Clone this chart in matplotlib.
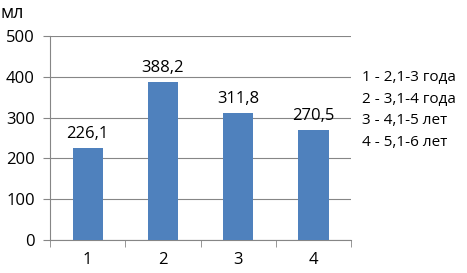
import matplotlib.pyplot as plt

categories = ["1", "2", "3", "4"]
values = [226.1, 388.2, 311.8, 270.5]
value_labels = ["226,1", "388,2", "311,8", "270,5"]
legend_lines = ["1 - 2,1-3 года", "2 - 3,1-4 года", "3 - 4,1-5 лет", "4 - 5,1-6 лет"]
y_ticks = [0, 100, 200, 300, 400, 500]

plt.rcParams["font.family"] = ["Open Sans", "DejaVu Sans"]

fig = plt.figure(figsize=(4.67, 2.73), dpi=100)
ax = fig.add_axes([0.107, 0.121, 0.645, 0.747])

x = range(len(categories))
bars = ax.bar(x, values, width=0.4, color="#4F81BD", zorder=3)
for b, lab in zip(bars, value_labels):
    ax.text(b.get_x() + b.get_width() / 2, b.get_height() + 14, lab,
            ha="center", va="bottom", fontsize=12)

ax.set_xlim(-0.5, len(categories) - 0.5)
ax.set_ylim(0, 500)
ax.set_yticks(y_ticks)
ax.set_yticklabels([str(t) for t in y_ticks], fontsize=12)
ax.set_xticks(list(x))
ax.set_xticklabels(categories, fontsize=12)
ax.tick_params(axis="x", length=0, pad=9)
ax.set_xticks([i - 0.5 for i in range(len(categories) + 1)], minor=True)
ax.tick_params(axis="x", which="minor", length=5, color="#868686", direction="out")
ax.tick_params(axis="y", length=5, color="#868686", direction="out", pad=6)

ax.grid(axis="y", color="#868686", lw=0.8, zorder=0)
for s in ["top", "right"]:
    ax.spines[s].set_visible(False)
ax.spines["left"].set_color("#868686")
ax.spines["bottom"].set_color("#868686")

fig.text(0.0, 0.985, "мл", fontsize=13, ha="left", va="top")

for i, line in enumerate(legend_lines):
    fig.text(0.775, 0.715 - i * 0.079, line, fontsize=11, ha="left", va="center")

fig.savefig("out.png", dpi=100)
